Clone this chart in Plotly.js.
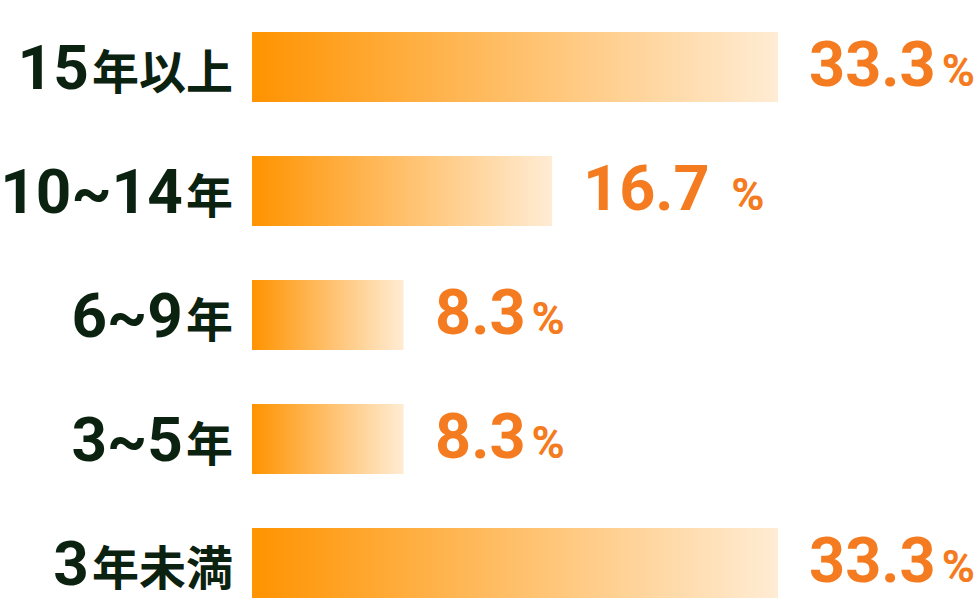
<!DOCTYPE html>
<html>
<head>
<meta charset="utf-8">
<script src="https://cdn.plot.ly/plotly-3.0.1.min.js"></script>
<style>html,body{margin:0;padding:0;background:#fff;}#chart{width:978px;height:604px;}</style>
</head>
<body>
<div id="chart"></div>
<script>
// Categories (top to bottom)
const categoryDigits = ["15", "10~14", "6~9", "3~5", "3"];
const categorySuffix = ["年以上", "年", "年", "年", "年未満"];
// Displayed percentage values
const percentValues = [33.3, 16.7, 8.3, 8.3, 33.3];
const percentGap = ["", " ", "", "", ""];
// Bar lengths as drawn in the picture (same units as percent)
const barLengths = [33.3, 19.0, 9.6, 9.6, 33.3];

const digitFont = "Roboto, 'Liberation Sans', sans-serif";
const cjkFont = "'Noto Sans CJK JP', sans-serif";
const labelColor = "#0b2210";
const valueColor = "#f47b20";
const halfH = 0.282;

const traces = barLengths.map((L, i) => ({
  type: "scatter",
  mode: "lines",
  x: [0, L, L, 0, 0],
  y: [i - halfH, i - halfH, i + halfH, i + halfH, i - halfH],
  fill: "toself",
  line: { width: 0, color: "rgba(0,0,0,0)" },
  fillgradient: {
    type: "horizontal",
    colorscale: [[0, "#ff9300"], [1, "#ffecd4"]]
  },
  hoverinfo: "skip",
  showlegend: false
}));

const tickText = categoryDigits.map((d, i) =>
  `<span style="font-family:${digitFont};font-weight:bold;font-size:62px">${d}</span>` +
  `<span style="font-size:13px"> </span>` +
  `<span style="font-family:${cjkFont};font-weight:bold;font-size:47px">${categorySuffix[i]}</span>`
);

const annotations = percentValues.map((v, i) => ({
  x: barLengths[i],
  y: i,
  xref: "x",
  yref: "y",
  xanchor: "left",
  yanchor: "middle",
  xshift: 29,
  yshift: 2,
  showarrow: false,
  text: `${v.toFixed(1)}${percentGap[i]}<span style="font-size:24px"> </span><span style="font-size:45px">%</span>`,
  font: { family: digitFont, size: 63, color: valueColor, weight: "bold" }
}));

const layout = {
  width: 978,
  height: 604,
  margin: { l: 252, r: 0, t: 0, b: 0 },
  paper_bgcolor: "#ffffff",
  plot_bgcolor: "#ffffff",
  showlegend: false,
  xaxis: {
    range: [0, 726 / 526 * 33.3],
    showgrid: false, zeroline: false, showline: false,
    showticklabels: false, ticks: ""
  },
  yaxis: {
    range: [4.331, -0.540],
    tickmode: "array",
    tickvals: categoryDigits.map((_, i) => i),
    ticktext: tickText,
    ticks: "",
    ticklabelstandoff: 18,
    showgrid: false, zeroline: false, showline: false,
    tickfont: { family: digitFont, size: 62, color: labelColor, weight: "bold" }
  },
  annotations: annotations
};

Plotly.newPlot("chart", traces, layout, { displayModeBar: false, staticPlot: true });
</script>
</body>
</html>
